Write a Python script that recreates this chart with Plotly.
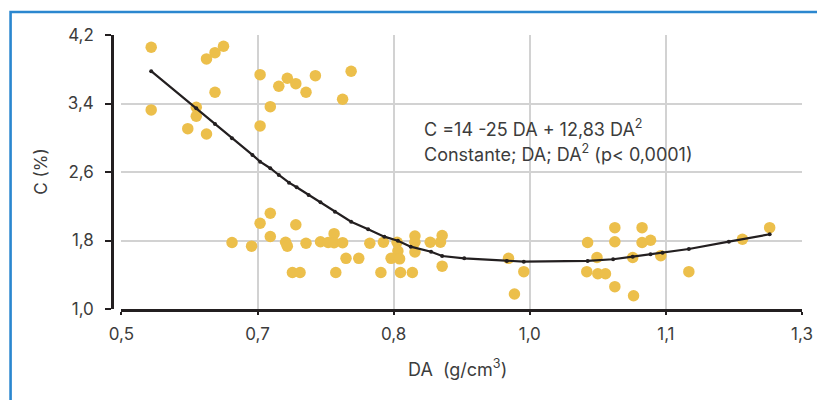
import plotly.graph_objects as go

# Scatter observations (DA in g/cm3, C in %)
da_obs = [0.535, 0.620, 0.610, 0.600, 0.663, 0.770, 0.695, 0.728, 0.685, 0.705,
          0.717, 0.610, 0.760, 0.535, 0.588, 0.675, 0.588, 0.578, 0.600, 0.663,
          0.675, 0.663, 0.705, 0.675, 0.750, 0.630, 0.653, 0.693, 0.695, 0.717,
          0.734, 0.743, 0.750, 0.760, 0.792, 0.808, 0.824, 0.825, 0.764, 0.779,
          0.817, 0.827, 0.701, 0.710, 0.752, 0.805, 0.828, 0.842, 0.845, 0.845,
          0.845, 0.863, 0.875, 0.877, 0.877, 0.955, 0.973, 0.962, 1.048, 1.059,
          1.047, 1.060, 1.069, 1.080, 1.080, 1.080, 1.101, 1.102, 1.112, 1.112,
          1.122, 1.134, 1.167, 1.230, 1.262]
c_obs = [4.057, 4.069, 3.994, 3.921, 3.737, 3.777, 3.695, 3.725, 3.602, 3.632,
         3.532, 3.532, 3.450, 3.325, 3.356, 3.363, 3.251, 3.106, 3.044, 3.138,
         2.118, 2.001, 1.984, 1.847, 1.880, 1.777, 1.734, 1.779, 1.734, 1.768,
         1.786, 1.777, 1.775, 1.775, 1.768, 1.779, 1.779, 1.678, 1.592, 1.592,
         1.592, 1.586, 1.426, 1.426, 1.426, 1.426, 1.426, 1.426, 1.853, 1.779,
         1.666, 1.779, 1.779, 1.859, 1.500, 1.592, 1.436, 1.175, 1.777, 1.602,
         1.436, 1.412, 1.412, 1.950, 1.786, 1.261, 1.602, 1.155, 1.950, 1.777,
         1.803, 1.623, 1.436, 1.814, 1.950]

# Fitted curve points
da_fit = [0.535, 0.588, 0.610, 0.630, 0.654, 0.663, 0.675, 0.685, 0.697, 0.706,
          0.720, 0.734, 0.751, 0.770, 0.790, 0.809, 0.825, 0.840, 0.864, 0.877,
          0.903, 0.953, 0.973, 1.048, 1.078, 1.101, 1.122, 1.136, 1.167, 1.214,
          1.262]
c_fit = [3.777, 3.345, 3.161, 2.994, 2.799, 2.721, 2.644, 2.565, 2.475, 2.422,
         2.332, 2.246, 2.137, 2.020, 1.931, 1.845, 1.798, 1.728, 1.669, 1.619,
         1.592, 1.561, 1.553, 1.561, 1.581, 1.611, 1.639, 1.658, 1.701, 1.786,
         1.873]

x_tickvals = [0.5, 0.66, 0.82, 0.98, 1.14, 1.3]
x_ticktext = ["0,5", "0,7", "0,8", "1,0", "1,1", "1,3"]
y_tickvals = [1.0, 1.8, 2.6, 3.4, 4.2]
y_ticktext = ["1,0", "1,8", "2,6", "3,4", "4,2"]

FONT = "Inter"
FS = 17
TXT = "#3c3c3c"
AXC = "#231f20"
GRID = "#d2d2d2"

fig = go.Figure()
fig.add_trace(go.Scatter(x=da_obs, y=c_obs, mode="markers",
                         marker=dict(color="#ecbf4b", size=11.5, line=dict(width=0)),
                         showlegend=False, hoverinfo="skip"))
fig.add_trace(go.Scatter(x=da_fit, y=c_fit, mode="lines+markers",
                         line=dict(color=AXC, width=2.2),
                         marker=dict(color=AXC, size=4),
                         showlegend=False, hoverinfo="skip"))

fig.update_layout(
    width=817, height=392,
    margin=dict(l=104, r=17, t=27, b=91),
    paper_bgcolor="white", plot_bgcolor="white",
    font=dict(family=FONT, size=FS, color=TXT),
    xaxis=dict(range=[0.5, 1.3], domain=[0.01365, 1],
               tickvals=x_tickvals, ticktext=x_ticktext,
               showgrid=True, gridcolor=GRID, gridwidth=1.5,
               showline=True, linecolor=AXC, linewidth=2.5,
               ticks="outside", ticklen=3, tickwidth=2, tickcolor=AXC,
               ticklabelstandoff=5, zeroline=False,
               tickfont=dict(family=FONT, size=FS, color=TXT)),
    yaxis=dict(range=[1.0, 4.2], anchor="free", position=0,
               tickvals=y_tickvals, ticktext=y_ticktext,
               showgrid=True, gridcolor=GRID, gridwidth=1.5,
               showline=True, linecolor=AXC, linewidth=2.5,
               ticks="outside", ticklen=6, tickwidth=2, tickcolor=AXC,
               ticklabelstandoff=8, zeroline=False,
               tickfont=dict(family=FONT, size=FS, color=TXT)),
    shapes=[dict(type="rect", xref="paper", yref="paper",
                 x0=-0.147, x1=1.2, y0=-0.5, y1=1.0839,
                 line=dict(color="#2b87cf", width=2.6), layer="above")],
    annotations=[
        dict(x=0.8528, y=3.114, xref="x", yref="y", xanchor="left", yanchor="middle",
             text="C =14 -25 DA + 12,83 DA<sup>2</sup>", showarrow=False,
             font=dict(family=FONT, size=18, color=TXT)),
        dict(x=0.8528, y=2.822, xref="x", yref="y", xanchor="left", yanchor="middle",
             text="Constante; DA; DA<sup>2</sup> (p&lt; 0,0001)", showarrow=False,
             font=dict(family=FONT, size=18, color=TXT)),
        dict(x=-0.1034, y=0.5, xref="paper", yref="paper", xanchor="center", yanchor="middle",
             text="C (%)", textangle=-90, showarrow=False,
             font=dict(family=FONT, size=FS, color=TXT)),
        dict(x=0.5, y=-0.215, xref="paper", yref="paper", xanchor="center", yanchor="middle",
             text="DA  (g/cm<sup>3</sup>)", showarrow=False,
             font=dict(family=FONT, size=18, color=TXT)),
    ],
)

fig.write_html("out.html")
